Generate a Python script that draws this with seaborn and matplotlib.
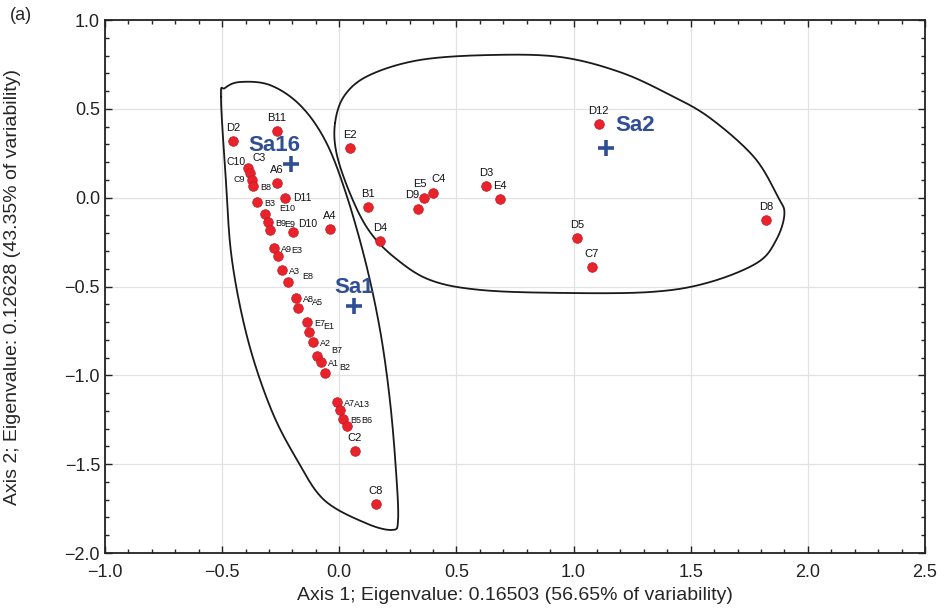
import numpy as np
import pandas as pd
import matplotlib
matplotlib.use("Agg")
import matplotlib.pyplot as plt
from matplotlib.ticker import MultipleLocator
import seaborn as sns

# ---- data -------------------------------------------------------------
labels = ["D2", "B11", "E2", "A6", "D11", "D10", "A4",
          "C3", "C10", "C9", "B8", "B3", "E10", "B9", "E9", "A9", "E3",
          "A3", "E8", "A8", "A5", "E7", "E1", "A2", "B7", "A1", "B2",
          "A7", "A13", "B5", "B6", "C2", "C8",
          "B1", "D4", "D9", "E5", "C4", "D3", "E4", "D12", "D5", "C7", "D8"]
axis1 = [-0.453, -0.266, 0.046, -0.266, -0.232, -0.198, -0.040,
         -0.390, -0.381, -0.373, -0.368, -0.351, -0.317, -0.304, -0.296, -0.279, -0.263,
         -0.245, -0.219, -0.185, -0.176, -0.138, -0.129, -0.112, -0.095, -0.078, -0.061,
         -0.010, 0.003, 0.016, 0.033, 0.067, 0.157,
         0.123, 0.174, 0.336, 0.362, 0.400, 0.626, 0.686, 1.108, 1.014, 1.078, 1.821]
axis2 = [0.319, 0.375, 0.280, 0.083, -0.002, -0.193, -0.176,
         0.167, 0.139, 0.100, 0.066, -0.024, -0.092, -0.137, -0.182, -0.283, -0.328,
         -0.407, -0.474, -0.564, -0.621, -0.699, -0.756, -0.812, -0.891, -0.925, -0.987,
         -1.150, -1.195, -1.246, -1.285, -1.426, -1.724,
         -0.052, -0.244, -0.064, -0.002, 0.026, 0.066, -0.007, 0.414, -0.227, -0.390, -0.125]

group_labels = ["Sa16", "Sa1", "Sa2"]
group_axis1 = [-0.206, 0.063, 1.138]
group_axis2 = [0.190, -0.610, 0.280]

# outline control points (data coordinates)
left_outline_x = [-0.505, -0.484, -0.458, -0.390, -0.290, -0.180, -0.065, 0.110, 0.225,
                  0.251, 0.242, 0.216, 0.174, 0.110, 0.024, -0.061, -0.168, -0.296, -0.424, -0.488]
left_outline_y = [0.567, 0.100, -0.350, -0.800, -1.194, -1.476, -1.701, -1.830, -1.870,
                  -1.814, -1.532, -1.138, -0.744, -0.350, 0.043, 0.325, 0.522, 0.634, 0.651, 0.617]
right_outline_x = [-0.018, 0.024, 0.131, 0.344, 0.643, 0.942, 1.198, 1.412, 1.582, 1.770,
                   1.870, 1.900, 1.865, 1.783, 1.569, 1.326, 0.942, 0.600, 0.387, 0.238,
                   0.131, 0.054, -0.010]
right_outline_y = [0.420, 0.578, 0.691, 0.775, 0.803, 0.792, 0.707, 0.578, 0.449, 0.229,
                   0.010, -0.090, -0.238, -0.367, -0.480, -0.531, -0.536, -0.519, -0.463, -0.339,
                   -0.193, -0.002, 0.240]

x_ticks = [-1.0, -0.5, 0.0, 0.5, 1.0, 1.5, 2.0, 2.5]
y_ticks = [-2.0, -1.5, -1.0, -0.5, 0.0, 0.5, 1.0]
x_title = "Axis 1; Eigenvalue: 0.16503 (56.65% of variability)"
y_title = "Axis 2; Eigenvalue: 0.12628 (43.35% of variability)"

# ---- style ------------------------------------------------------------
sns.set_style("ticks")
plt.rcParams["font.family"] = ["Liberation Sans", "DejaVu Sans"]

RED = "#e8232b"
BLUE = "#2f4e94"

fig = plt.figure(figsize=(9.49, 6.10), dpi=100)
ax = fig.add_axes([0.1106, 0.0934, 0.8641, 0.8738])

pts = pd.DataFrame({"label": labels, "x": axis1, "y": axis2})
grp = pd.DataFrame({"label": group_labels, "x": group_axis1, "y": group_axis2})


def closed_spline(xs, ys, n=30):
    P = np.column_stack([xs, ys])
    m = len(P)
    out = []
    for i in range(m):
        p0, p1, p2, p3 = P[(i - 1) % m], P[i], P[(i + 1) % m], P[(i + 2) % m]
        t = np.linspace(0, 1, n, endpoint=False)[:, None]
        seg = 0.5 * ((2 * p1) + (-p0 + p2) * t + (2 * p0 - 5 * p1 + 4 * p2 - p3) * t ** 2
                     + (-p0 + 3 * p1 - 3 * p2 + p3) * t ** 3)
        out.append(seg)
    out = np.vstack(out)
    return np.vstack([out, out[:1]])


for ox, oy in [(left_outline_x, left_outline_y), (right_outline_x, right_outline_y)]:
    c = closed_spline(ox, oy)
    ax.plot(c[:, 0], c[:, 1], color="#1a1a1a", lw=1.3, zorder=2)

sns.scatterplot(data=pts, x="x", y="y", ax=ax, color=RED, s=48,
                edgecolor="#c8141c", linewidth=0.5, zorder=4, legend=False)
sns.scatterplot(data=grp, x="x", y="y", ax=ax, color=BLUE, marker="+", s=130,
                linewidth=2.6, zorder=5, legend=False)

# label placement (offset in points, horizontal alignment, fontsize)
special = {"C3": ((3, 7), "left", 7.5), "C10": ((-3, 8), "right", 7.5),
           "C9": ((-5, 0), "right", 6.5), "B8": ((5, -1), "left", 6.5),
           "D10": ((4, 5.5), "left", 7.5), "D11": ((6, 0), "left", 7.5),
           "E5": ((-3, 10), "center", 8), "C4": ((4, 10), "center", 8),
           "D9": ((-4, 10), "center", 8)}
cluster = set(labels[11:31])
side = 0
for _, r in pts.iterrows():
    lab = r["label"]
    if lab in special:
        off, ha, fs = special[lab]
        ax.annotate(lab, (r["x"], r["y"]), xytext=off, textcoords="offset points",
                    ha=ha, va="center", fontsize=fs, color="#111111", zorder=6)
    elif lab in cluster:
        off = (5, -1) if side % 2 == 0 else (10, 4)
        side += 1
        ax.annotate(lab, (r["x"], r["y"]), xytext=off, textcoords="offset points",
                    ha="left", va="center", fontsize=6.5, color="#111111", zorder=6)
    else:
        ax.annotate(lab, (r["x"], r["y"]), xytext=(0, 5.5), textcoords="offset points",
                    ha="center", va="bottom", fontsize=8, color="#111111", zorder=6)

group_offsets = {"Sa16": (-12, 13.5), "Sa1": (0, 13.5), "Sa2": (7, 16.5)}
group_ha = {"Sa16": "center", "Sa1": "center", "Sa2": "left"}
for _, r in grp.iterrows():
    ax.annotate(r["label"], (r["x"], r["y"]), xytext=group_offsets[r["label"]],
                textcoords="offset points", ha=group_ha[r["label"]], va="center",
                fontsize=16, fontweight="bold", color=BLUE, zorder=6)

ax.set_xlim(-1.0, 2.5)
ax.set_ylim(-2.0, 1.0)
ax.set_xticks(x_ticks)
ax.set_yticks(y_ticks)
ax.set_xticklabels([f"{v:.1f}".replace("-", "\u2212") for v in x_ticks])
ax.set_yticklabels([f"{v:.1f}".replace("-", "\u2212") for v in y_ticks])
ax.xaxis.set_minor_locator(MultipleLocator(0.1))
ax.yaxis.set_minor_locator(MultipleLocator(0.1))
ax.tick_params(which="both", direction="in", top=True, right=True, colors="#222222",
               labelsize=13, width=1.0)
ax.tick_params(axis="x", which="major", pad=8)
ax.tick_params(which="major", length=5)
ax.tick_params(which="minor", length=3)
ax.grid(True, which="major", color="#e2e2e2", lw=0.9)
ax.set_axisbelow(True)
for s in ax.spines.values():
    s.set_visible(True)
    s.set_color("#222222")
    s.set_linewidth(1.3)

ax.set_xlabel(x_title, fontsize=14)
ax.set_ylabel(y_title, fontsize=14)
ax.xaxis.set_label_coords(0.5, -0.064)
ax.yaxis.set_label_coords(-0.102, 0.5)
fig.text(0.010, 0.975, "(a)", fontsize=13, va="center", ha="left")

fig.savefig("out.png", dpi=100)
